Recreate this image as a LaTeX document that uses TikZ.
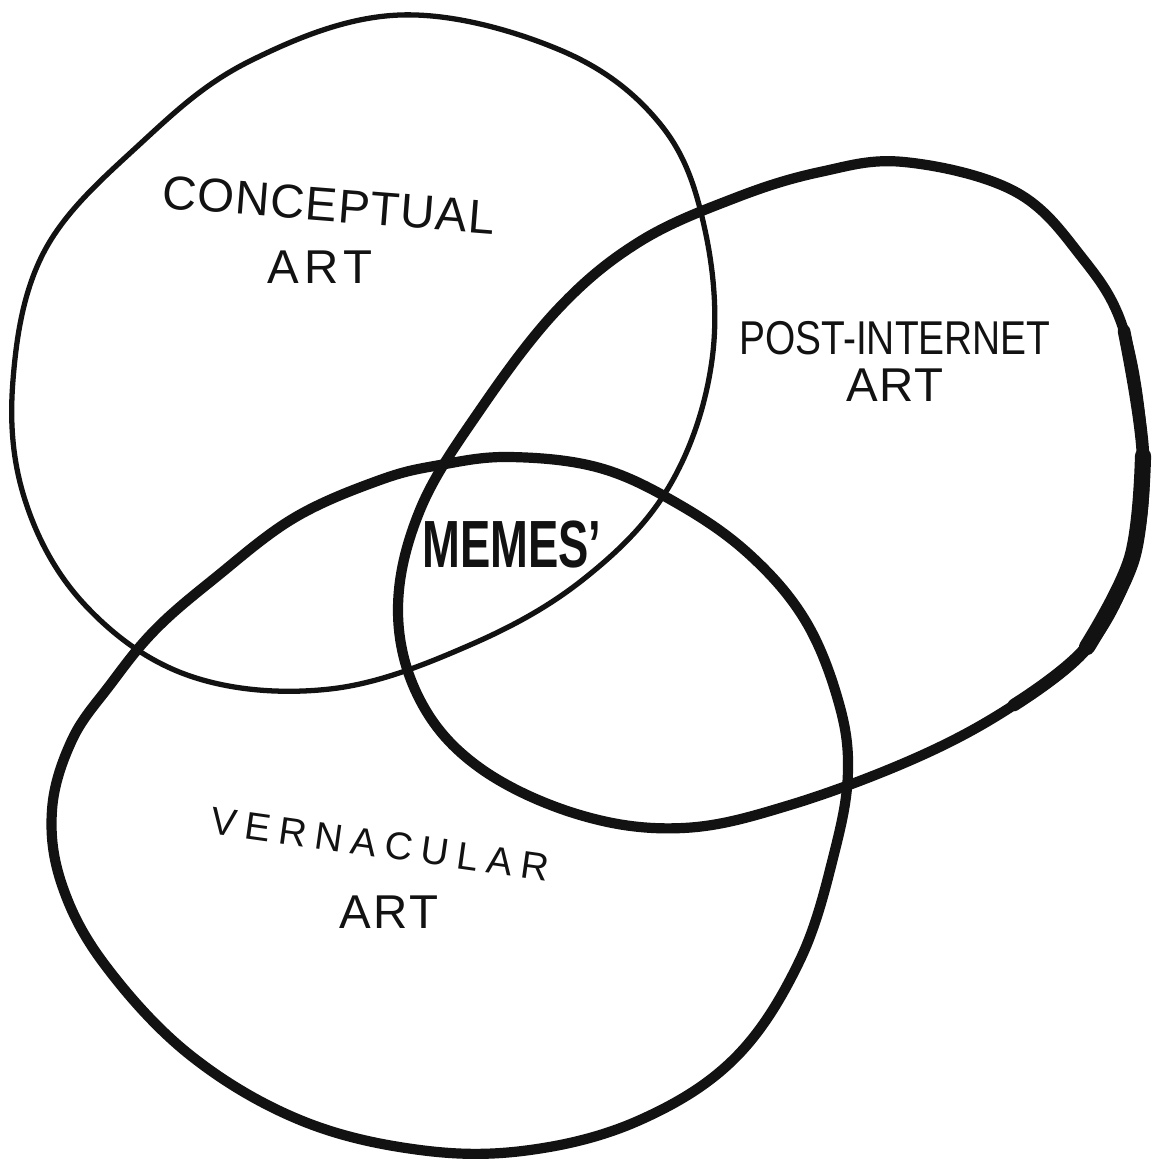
\documentclass[tikz,border=0pt]{standalone}
\usepackage{fontspec}
\setmainfont{Liberation Sans}
\usetikzlibrary{positioning}
\definecolor{ink}{HTML}{121212}
\definecolor{paper}{HTML}{FFFFFF}

\begin{document}
\begin{tikzpicture}[
  thinring/.style={draw=ink, line width=1.5pt, line join=round},
  thickring/.style={draw=ink, line width=2.9pt, line join=round},
  heavyarc/.style={draw=ink, line width=#1, line cap=round},
  hand/.style={text=ink, inner sep=0pt, font=\fontsize{13.5}{16}\selectfont},
  boldhand/.style={text=ink, inner sep=0pt, font=\fontsize{19}{22}\selectfont\bfseries},
]

% Background / page size
\fill[paper] (0,0) rectangle (11.52,-11.66);
\useasboundingbox (0,0) rectangle (11.52,-11.66);

% ---- Conceptual art ring ----
\draw[thinring] plot[smooth cycle, tension=0.62] coordinates {
  (4.00,-0.15) (5.60,-0.50) (6.61,-1.25) (7.05,-2.30) (7.12,-3.60)
  (6.70,-4.85) (5.85,-5.78) (4.70,-6.45) (3.30,-6.89) (1.90,-6.76)
  (0.85,-6.05) (0.25,-5.00) (0.13,-3.80) (0.45,-2.50) (1.40,-1.44)
  (2.50,-0.61)};

% ---- Post-internet art ring ----
\draw[thickring] plot[smooth cycle, tension=0.62] coordinates {
  (9.04,-1.62) (10.14,-1.91) (10.80,-2.55) (11.24,-3.31) (11.43,-4.56)
  (11.32,-5.58) (10.87,-6.47) (10.14,-7.05) (9.18,-7.57) (7.90,-8.05)
  (6.83,-8.28) (5.80,-8.15) (4.80,-7.68) (4.20,-7.00) (3.98,-6.10)
  (4.20,-5.10) (4.80,-4.10) (5.58,-3.09) (6.39,-2.42) (7.35,-1.98)
  (8.20,-1.72)};
% heavier stroke on its right side
\draw[heavyarc=3.6pt] plot[smooth, tension=0.62] coordinates {
  (11.24,-3.31) (11.43,-4.56) (11.32,-5.58) (10.87,-6.47) (10.14,-7.05)};
\draw[heavyarc=4.6pt] plot[smooth, tension=0.62] coordinates {
  (11.43,-4.56) (11.32,-5.58) (10.87,-6.47)};

% ---- Vernacular art ring ----
\draw[thickring] plot[smooth cycle, tension=0.62] coordinates {
  (5.10,-4.57) (6.00,-4.68) (6.80,-5.05) (7.50,-5.55) (8.05,-6.20)
  (8.38,-7.00) (8.48,-7.70) (8.35,-8.50) (8.00,-9.60) (7.35,-10.58)
  (6.40,-11.20) (5.30,-11.50) (4.20,-11.50) (3.00,-11.20) (1.90,-10.55)
  (1.05,-9.65) (0.62,-8.85) (0.52,-8.10) (0.72,-7.40) (1.10,-6.85)
  (1.55,-6.30) (2.15,-5.78) (2.94,-5.18) (3.80,-4.80) (4.40,-4.65)};

% ---- Labels ----
\node[hand, rotate=-4.5] (concept) at (3.29,-2.05)
  {\addfontfeature{LetterSpace=2}CONCEPTUAL};
\node[hand] (conceptart) at (3.20,-2.67)
  {\addfontfeature{LetterSpace=12}ART};

\node[hand] (postnet) at (8.95,-3.38)
  {\scalebox{0.82}[1]{POST-INTERNET}};
\node[hand] (postart) at (8.95,-3.85)
  {\addfontfeature{LetterSpace=4}ART};

\node[hand, rotate=-8] (vernac) at (3.80,-8.44)
  {\fontsize{11}{13}\selectfont\addfontfeature{LetterSpace=22}VERNACULAR};
\node[hand] (vernacart) at (3.89,-9.12)
  {\addfontfeature{LetterSpace=6}ART};

\node[boldhand] (memes) at (5.12,-5.45) {\scalebox{0.68}[1]{MEMES'}};

\end{tikzpicture}
\end{document}
